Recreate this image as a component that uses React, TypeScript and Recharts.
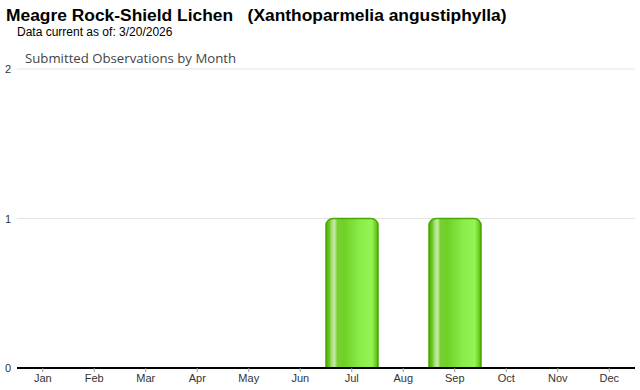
import React from 'react';
import { BarChart, Bar, XAxis, YAxis, CartesianGrid } from 'recharts';

const months = ['Jan', 'Feb', 'Mar', 'Apr', 'May', 'Jun', 'Jul', 'Aug', 'Sep', 'Oct', 'Nov', 'Dec'];
const observations = [0, 0, 0, 0, 0, 0, 1, 0, 1, 0, 0, 0];
const yTicks = [0, 1, 2];

const data = months.map((m, i) => ({ month: m, count: observations[i] }));

const YTick = (props: any) => {
  const { y, payload } = props;
  return (
    <text x={8} y={y + 4} textAnchor="middle" fontSize={11} fill="#333" fontFamily="Arial, Liberation Sans, sans-serif">
      {payload.value}
    </text>
  );
};

export default function App() {
  return (
    <div style={{ position: 'absolute', left: 0, top: 0, width: 640, height: 390, background: '#fff', fontFamily: 'Arial, "Liberation Sans", sans-serif' }}>
      <div style={{ position: 'absolute', left: 6, top: 5, fontSize: 17.4, fontWeight: 'bold', color: '#000', whiteSpace: 'pre' }}>
        {'Meagre Rock-Shield Lichen   (Xanthoparmelia angustiphylla)'}
      </div>
      <div style={{ position: 'absolute', left: 17, top: 25, fontSize: 12, color: '#000', whiteSpace: 'pre' }}>
        Data current as of: 3/20/2026
      </div>
      <div style={{ position: 'absolute', left: 25, top: 49, fontSize: 13.2, color: '#444', fontFamily: '"Open Sans", sans-serif', whiteSpace: 'pre' }}>
        Submitted Observations by Month
      </div>
      <BarChart
        width={640}
        height={390}
        data={data}
        margin={{ top: 69, right: 5, bottom: 0, left: 0 }}
        barCategoryGap={0}
        style={{ position: 'absolute', left: 0, top: 0 }}
      >
        <defs>
          <linearGradient id="barGrad" x1="0" y1="0" x2="1" y2="0">
            <stop offset="0%" stopColor="#4fae05" />
            <stop offset="6%" stopColor="#66c81c" />
            <stop offset="11%" stopColor="#a8dc80" />
            <stop offset="16%" stopColor="#c8eaa8" />
            <stop offset="22%" stopColor="#78d030" />
            <stop offset="35%" stopColor="#6fd028" />
            <stop offset="65%" stopColor="#8aec48" />
            <stop offset="88%" stopColor="#94f456" />
            <stop offset="96%" stopColor="#6cd020" />
            <stop offset="100%" stopColor="#4fae05" />
          </linearGradient>
        </defs>
        <CartesianGrid vertical={false} stroke="#e4e4e4" />
        <YAxis
          width={17}
          domain={[0, 2]}
          ticks={yTicks}
          axisLine={false}
          tickLine={false}
          tick={<YTick />}
          interval={0}
        />
        <XAxis
          dataKey="month"
          height={22}
          axisLine={{ stroke: '#000', strokeWidth: 2 }}
          tickLine={{ stroke: '#999' }}
          tickSize={4}
          tick={{ fontSize: 11, fill: '#333', fontFamily: 'Arial, "Liberation Sans", sans-serif' }}
          interval={0}
        />
        <Bar
          dataKey="count"
          fill="url(#barGrad)"
          stroke="#4aa800"
          strokeWidth={1.5}
          radius={[7, 7, 0, 0]}
          isAnimationActive={false}
        />
      </BarChart>
    </div>
  );
}
